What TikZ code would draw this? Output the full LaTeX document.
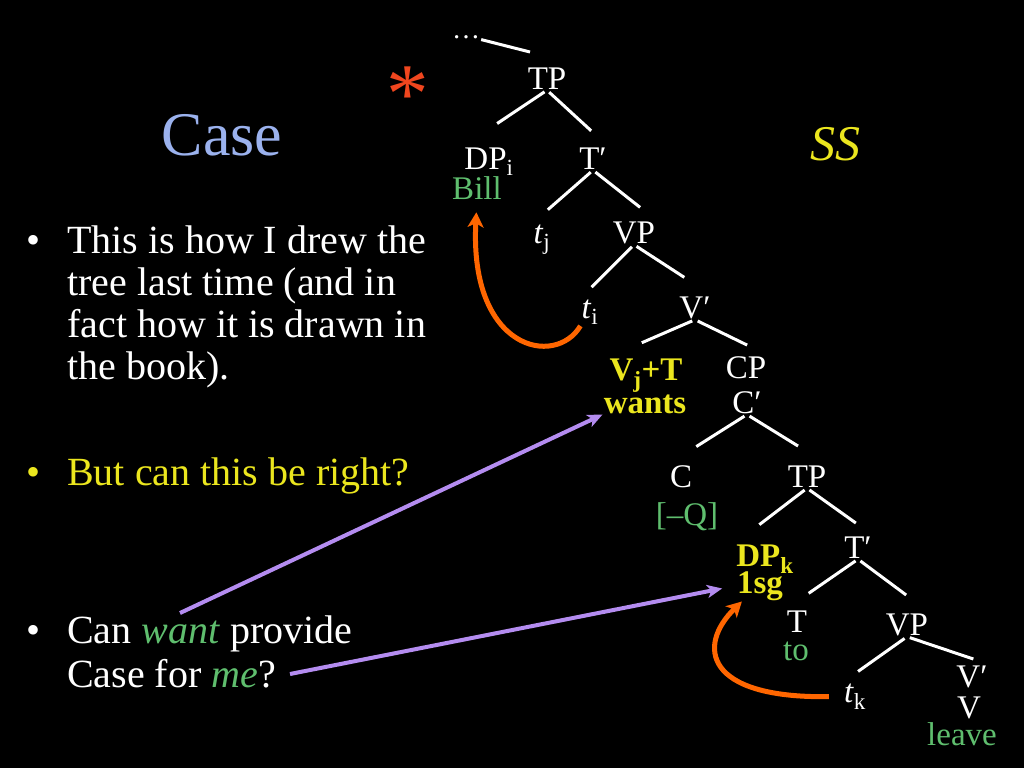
\documentclass[tikz,border=0pt]{standalone}
\usepackage{fontspec}
\setmainfont{Liberation Serif}
\usetikzlibrary{arrows.meta,calc}

\definecolor{titleblue}{RGB}{155,178,238}
\definecolor{glossgreen}{RGB}{95,190,110}
\definecolor{hiyellow}{RGB}{235,230,30}
\definecolor{moveorange}{RGB}{255,102,0}
\definecolor{pointlilac}{RGB}{180,140,240}
\definecolor{starred}{RGB}{240,70,30}

\newcommand{\tr}[1]{\textit{t}\textsubscript{#1}}

\begin{document}
\begin{tikzpicture}[x=1pt,y=-1pt,
	every node/.style={text=white,inner sep=1pt},
	cat/.style={anchor=base,font=\fontsize{33}{36}\selectfont},
	gloss/.style={cat,text=glossgreen},
	hot/.style={cat,text=hiyellow,font=\fontsize{33}{36}\selectfont\bfseries},
	body/.style={anchor=base west,align=left,inner sep=0pt,font=\fontsize{40}{42}\selectfont},
	dot/.style={body},
	twig/.style={draw=white,line width=3pt,shorten <=3pt,
		to path={-- ($(\tikztostart)!#1!(\tikztotarget)$)}},
	twig/.default=60pt,
	move/.style={-{Stealth[length=15pt,width=16pt,inset=4pt]},draw=moveorange,line width=5pt},
	point/.style={-{Stealth[length=15pt,width=13pt,inset=4pt]},draw=pointlilac,line width=4pt}]
	\fill[black] (0,0) rectangle (1024,768);
	\useasboundingbox (0,0) rectangle (1024,768);
	% left column
	\node[anchor=base,text=titleblue,font=\fontsize{62}{70}\selectfont] (title) at (222,155) {Case};
	\node[dot] (b1) at (26,253) {•};
	\node[body] (item1) at (67,379) {This is how I drew the\\tree last time (and in\\fact how it is drawn in\\the book).};
	\node[dot,text=hiyellow] (b2) at (26,485) {•};
	\node[body,text=hiyellow] (item2) at (67,485) {But can this be right?};
	\node[dot] (b3) at (26,643) {•};
	\node[body,font=\fontsize{40}{44}\selectfont] (item3) at (67,687) {Can \textcolor{glossgreen}{\textit{want}} provide\\Case for \textcolor{glossgreen}{\textit{me}}?};
	\node[anchor=base,text=hiyellow,font=\fontsize{50}{56}\selectfont\itshape] (ss) at (835,160) {SS};
	\node[anchor=base,text=starred,font=\fontsize{85}{90}\selectfont] (star) at (408,122) {*};
	% tree
	\node[anchor=base,font=\fontsize{28}{30}\selectfont] (dots) at (466,38) {…};
	\coordinate (up) at (530,52);
	\node[cat]   (TP)      at (547,89)  {TP};
	\node[cat]   (DPi)     at (489,169) {DP\textsubscript{i}};
	\node[gloss] (bill)    at (477,199) {Bill};
	\node[cat]   (Tbar)    at (593,169) {T′};
	\node[cat]   (tj)      at (542,243) {\tr{j}};
	\node[cat]   (VP)      at (634,243) {VP};
	\node[cat]   (ti)      at (590,318) {\tr{i}};
	\node[cat]   (Vbar)    at (695,318) {V′};
	\node[hot]   (VT)      at (646,380) {V\textsubscript{j}+T};
	\node[hot]   (wants)   at (645,413) {wants};
	\node[cat]   (CP)      at (746,378) {CP};
	\node[cat]   (Cbar)    at (747,413) {C′};
	\node[cat]   (C)       at (681,487) {C};
	\node[gloss] (negQ)    at (687,525) {[–Q]};
	\node[cat]   (TPlow)   at (807,487) {TP};
	\node[hot]   (DPk)     at (765,566) {DP\textsubscript{k}};
	\node[hot]   (sg)      at (760,593) {1sg};
	\node[cat]   (Tbarlow) at (858,558) {T′};
	\node[cat]   (T)       at (797,632) {T};
	\node[gloss] (to)      at (796,660) {to};
	\node[cat]   (VPlow)   at (907,635) {VP};
	\node[cat]   (tk)      at (855,702) {\tr{k}};
	\node[cat]   (Vbarlow) at (972,687) {V′};
	\node[cat]   (V)       at (969,718) {V};
	\node[gloss] (leave)   at (962,745) {leave};
	\draw[white,line width=3pt] (dots.south east) -- (up);
	\path
	(TP.south)      edge [twig]      (DPi.north west)
	(TP.south)      edge [twig]      (Tbar.north east)
	(Tbar.south)    edge [twig]      (tj.north west)
	(Tbar.south)    edge [twig]      (VP.north east)
	(VP.south)      edge [twig]      (ti.north west)
	(VP.south)      edge [twig]      (Vbar.north east)
	(Vbar.south)    edge [twig=58pt] (VT.north west)
	(Vbar.south)    edge [twig=58pt] (CP.north east)
	(Cbar.south)    edge [twig]      (C.north west)
	(Cbar.south)    edge [twig]      (TPlow.north east)
	(TPlow.south)   edge [twig]      (DPk.north west)
	(TPlow.south)   edge [twig]      (Tbarlow.north east)
	(Tbarlow.south) edge [twig]      (T.north west)
	(Tbarlow.south) edge [twig]      (VPlow.north east)
	(VPlow.south)   edge [twig]      (tk.north west)
	(VPlow.south)   edge [twig=70pt] (Vbarlow.north east);
	% movement arrows
	\draw[move,shorten >=12pt] (ti.south west) .. controls +(-25,42) and +(-8,150) .. (bill.south);
	\draw[move,shorten <=14pt] (tk.west) .. controls +(-139,2) and +(-45,44) .. ([xshift=6pt]sg.south west);
	% pointers from the question
	\coordinate (wantpt) at (180,613);
	\coordinate (mept) at (290,674);
	\draw[point] (wantpt) -- (wants.south west);
	\draw[point,shorten >=14pt] (mept) -- (sg.west);
\end{tikzpicture}
\end{document}
